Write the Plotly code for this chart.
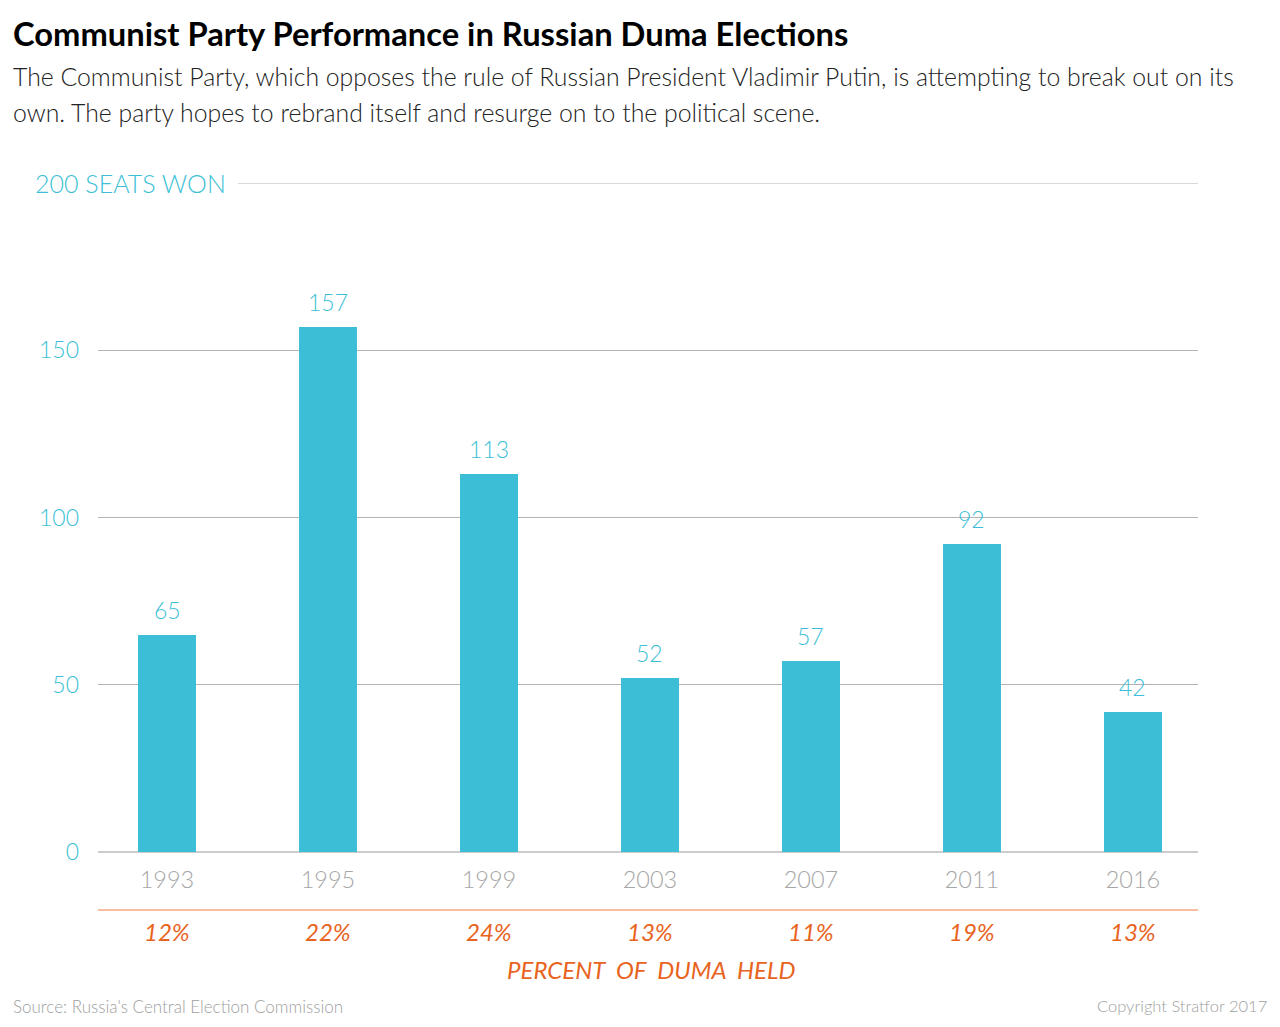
import plotly.graph_objects as go

years = ["1993", "1995", "1999", "2003", "2007", "2011", "2016"]
seats = [65, 157, 113, 52, 57, 92, 42]
percent_held = ["12%", "22%", "24%", "13%", "11%", "19%", "13%"]
y_ticks = [0, 50, 100, 150]

title = "Communist Party Performance in Russian Duma Elections"
subtitle1 = "The Communist Party, which opposes the rule of Russian President Vladimir Putin, is attempting to break out on its"
subtitle2 = "own. The party hopes to rebrand itself and resurge on to the political scene."
source = "Source: Russia's Central Election Commission"
copyright_txt = "Copyright Stratfor 2017"

CYAN = "#3cbfd6"
ORANGE = "#e8641e"
FONT = "Lato"

W, H = 1280, 1027
L, R, T, B = 98, 1198, 183, 852


def px(p):
    return (p - L) / (R - L)


def py(p):
    return (B - p) / (B - T)


xs = list(range(len(years)))

fig = go.Figure()
fig.add_trace(go.Bar(x=xs, y=seats, marker_color=CYAN, marker_line_width=0,
                     width=0.355, hoverinfo="skip"))

ann = []
# value labels
for x, v in zip(xs, seats):
    ann.append(dict(x=x, y=v, xref="x", yref="y", text=str(v), showarrow=False,
                    yanchor="middle", yshift=25,
                    font=dict(family=FONT, size=23, color=CYAN, weight=300)))
# percent labels
for x, p in zip(xs, percent_held):
    ann.append(dict(x=x, y=py(931), xref="x", yref="paper", text="<i>%s</i>" % p,
                    showarrow=False, yanchor="middle",
                    font=dict(family=FONT, size=24, color=ORANGE)))
ann.append(dict(x=px(651), y=py(969), xref="paper", yref="paper",
                text="<i>PERCENT  OF  DUMA  HELD</i>", showarrow=False, yanchor="middle",
                font=dict(family=FONT, size=24, color=ORANGE)))
ann.append(dict(x=px(227), y=py(183), xref="paper", yref="paper", text="200 SEATS WON",
                showarrow=False, xanchor="right", yanchor="middle", borderpad=0,
                font=dict(family=FONT, size=25, color=CYAN, weight=300)))
ann.append(dict(x=px(12), y=py(33), xref="paper", yref="paper", text="<b>%s</b>" % title,
                showarrow=False, xanchor="left", yanchor="middle", borderpad=0,
                font=dict(family=FONT, size=32.7, color="#000000")))
ann.append(dict(x=px(12), y=py(77), xref="paper", yref="paper", text=subtitle1,
                showarrow=False, xanchor="left", yanchor="middle", borderpad=0,
                font=dict(family=FONT, size=24.8, color="#222222", weight=300)))
ann.append(dict(x=px(12), y=py(112), xref="paper", yref="paper", text=subtitle2,
                showarrow=False, xanchor="left", yanchor="middle", borderpad=0,
                font=dict(family=FONT, size=24.8, color="#222222", weight=300)))
ann.append(dict(x=px(12), y=py(1006), xref="paper", yref="paper", text=source,
                showarrow=False, xanchor="left", yanchor="middle", borderpad=0,
                font=dict(family=FONT, size=17, color="#a0a0a0", weight=300)))
ann.append(dict(x=px(1268), y=py(1006), xref="paper", yref="paper", text=copyright_txt,
                showarrow=False, xanchor="right", yanchor="middle", borderpad=0,
                font=dict(family=FONT, size=16.5, color="#a0a0a0", weight=300)))

shapes = [
    dict(type="line", xref="paper", yref="y", x0=px(238), x1=1, y0=200, y1=200,
         line=dict(color="#b3b3b3", width=1)),
    dict(type="line", xref="paper", yref="paper", x0=0, x1=1, y0=py(910), y1=py(910),
         line=dict(color="#f5a985", width=1.5)),
]

fig.update_layout(
    width=W, height=H,
    margin=dict(l=L, r=W - R, t=T, b=H - B, pad=0),
    paper_bgcolor="white", plot_bgcolor="white",
    showlegend=False,
    annotations=ann, shapes=shapes,
    bargap=0,
    xaxis=dict(range=[-0.4286, 6.404], tickvals=xs, ticktext=years,
               showgrid=False, zeroline=False, showline=False, ticks="",
               ticklabelstandoff=11,
               tickfont=dict(family=FONT, size=23.5, color="#a6a6a6", weight=300),
               fixedrange=True),
    yaxis=dict(range=[0, 200], tickvals=y_ticks, ticktext=[str(t) for t in y_ticks],
               showgrid=True, gridcolor="#b3b3b3", gridwidth=1,
               zeroline=True, zerolinecolor="#cccccc", zerolinewidth=1.5,
               showline=False, ticks="", ticklabelstandoff=18,
               tickfont=dict(family=FONT, size=23, color=CYAN, weight=300),
               fixedrange=True),
)

fig.write_html("out.html")
